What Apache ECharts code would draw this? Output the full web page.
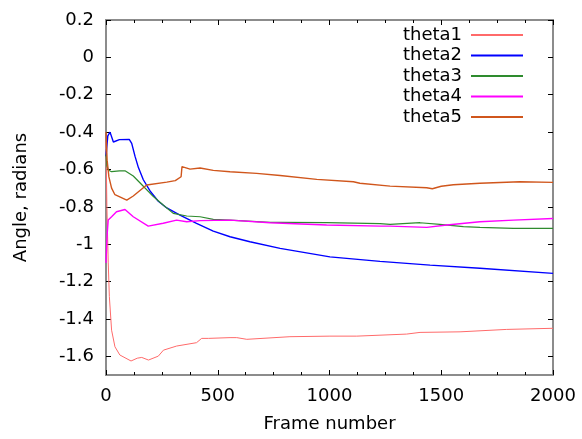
<!DOCTYPE html>
<html>
<head>
<meta charset="utf-8">
<script src="https://cdn.jsdelivr.net/npm/echarts@6/dist/echarts.min.js"></script>
<style>
  html, body { margin: 0; padding: 0; background: #fff; }
  #chart { width: 582px; height: 439px; }
</style>
</head>
<body>
<div id="chart"></div>
<script>
var seriesNames = ["theta1", "theta2", "theta3", "theta4", "theta5"];
var yTicks = [0.2, 0, -0.2, -0.4, -0.6, -0.8, -1, -1.2, -1.4, -1.6];

var frames1 = [0, 4, 10, 15, 25, 40, 62, 112, 140, 160, 190, 234, 257, 316, 405, 428, 458, 555, 585, 630, 823, 1002, 1122, 1345, 1405, 1584, 1793, 2000];
var theta1 = [-0.45, -0.8, -1.10, -1.28, -1.46, -1.549, -1.593, -1.625, -1.61, -1.606, -1.62, -1.599, -1.567, -1.545, -1.527, -1.504, -1.504, -1.50, -1.50, -1.509, -1.495, -1.492, -1.492, -1.481, -1.472, -1.469, -1.456, -1.45];

var frames2 = [0, 8, 18, 33, 60, 104, 115, 130, 145, 167, 197, 234, 272, 331, 405, 480, 555, 644, 779, 1002, 1226, 1450, 1673, 2000];
var theta2 = [-0.53, -0.42, -0.40, -0.453, -0.44, -0.439, -0.46, -0.53, -0.59, -0.655, -0.715, -0.77, -0.806, -0.844, -0.888, -0.93, -0.96, -0.987, -1.022, -1.068, -1.092, -1.112, -1.129, -1.156];

var frames3 = [0, 4, 10, 25, 60, 85, 122, 167, 212, 256, 301, 361, 421, 480, 555, 734, 779, 987, 1226, 1271, 1405, 1494, 1599, 1673, 1823, 2000];
var theta3 = [-0.52, -0.58, -0.603, -0.612, -0.607, -0.607, -0.635, -0.69, -0.745, -0.79, -0.835, -0.849, -0.853, -0.867, -0.871, -0.883, -0.883, -0.885, -0.89, -0.894, -0.885, -0.894, -0.906, -0.91, -0.915, -0.915];

var frames4 = [0, 5, 10, 25, 47, 85, 122, 189, 256, 316, 361, 421, 555, 734, 987, 1226, 1271, 1435, 1525, 1673, 1823, 2000];
var theta4 = [-1.1, -0.95, -0.87, -0.853, -0.826, -0.814, -0.853, -0.903, -0.888, -0.871, -0.880, -0.874, -0.871, -0.885, -0.897, -0.903, -0.903, -0.910, -0.897, -0.880, -0.871, -0.862];

var frames5 = [0, 5, 13, 25, 40, 93, 122, 182, 272, 310, 336, 340, 376, 421, 480, 555, 674, 779, 943, 1107, 1136, 1271, 1435, 1460, 1500, 1554, 1673, 1852, 2000];
var theta5 = [-0.40, -0.55, -0.64, -0.70, -0.735, -0.764, -0.742, -0.683, -0.668, -0.66, -0.639, -0.585, -0.598, -0.592, -0.605, -0.612, -0.621, -0.632, -0.653, -0.666, -0.674, -0.689, -0.698, -0.703, -0.69, -0.682, -0.674, -0.666, -0.669];

var colors = ["#ff6a6a", "#0000ff", "#2e8b2e", "#ff00ff", "#d0561c"];
var widths = [1, 1.4, 1.2, 1.4, 1.4];

function pairs(xs, ys) {
  return xs.map(function (x, i) { return [x, ys[i]]; });
}
var allData = [pairs(frames1, theta1), pairs(frames2, theta2), pairs(frames3, theta3), pairs(frames4, theta4), pairs(frames5, theta5)];

var font = "DejaVu Sans";
var chart = echarts.init(document.getElementById("chart"));

var xCommon = {
  type: "value",
  min: 0,
  max: 2000,
  interval: 500,
  axisLine: { show: false, onZero: false },
  splitLine: { show: false },
  axisTick: { inside: true, length: 5, lineStyle: { color: "#000", width: 1 } },
  minorTick: { show: true, splitNumber: 4, length: 3, lineStyle: { color: "#000", width: 1 } }
};
var yCommon = {
  type: "value",
  min: -1.7,
  max: 0.2,
  axisLine: { show: false, onZero: false },
  splitLine: { show: false },
  axisTick: { inside: true, length: 5, customValues: yTicks, lineStyle: { color: "#000", width: 1 } }
};

var option = {
  animation: false,
  color: colors,
  grid: { left: 106, right: 29, top: 20, bottom: 64, show: true, borderColor: "#8c8c8c", borderWidth: 2 },
  legend: {
    data: seriesNames,
    orient: "vertical",
    align: "right",
    right: 54,
    top: 21,
    itemGap: 2.5,
    itemWidth: 52,
    itemHeight: 2,
    icon: "rect",
    textStyle: { fontFamily: font, fontSize: 18, color: "#000", padding: [0, 4, 0, 0] }
  },
  xAxis: [
    Object.assign({}, xCommon, {
      position: "bottom",
      name: "Frame number",
      nameLocation: "middle",
      nameGap: 40,
      nameTextStyle: { fontFamily: font, fontSize: 18, color: "#000" },
      axisLabel: {
        margin: 12, fontFamily: font, fontSize: 18, color: "#000",
        formatter: function (v) { return String(v); }
      }
    }),
    Object.assign({}, xCommon, { position: "top", axisLabel: { show: false } })
  ],
  yAxis: [
    Object.assign({}, yCommon, {
      position: "left",
      name: "Angle, radians",
      nameLocation: "middle",
      nameGap: 76,
      nameTextStyle: { fontFamily: font, fontSize: 18, color: "#000" },
      axisLabel: {
        margin: 12, fontFamily: font, fontSize: 18, color: "#000",
        customValues: yTicks,
        formatter: function (v) { return String(Math.round(v * 10) / 10); }
      }
    }),
    Object.assign({}, yCommon, { position: "right", axisLabel: { show: false } })
  ],
  series: seriesNames.map(function (name, i) {
    return {
      name: name,
      type: "line",
      data: allData[i],
      showSymbol: false,
      symbol: "none",
      lineStyle: { color: colors[i], width: widths[i] },
      itemStyle: { color: colors[i] },
      clip: true
    };
  })
};

chart.setOption(option);
</script>
</body>
</html>
